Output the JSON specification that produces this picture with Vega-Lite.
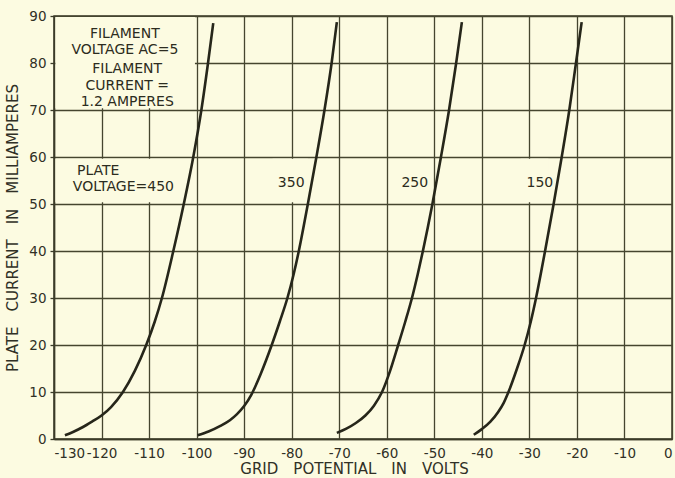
{
  "$schema": "https://vega.github.io/schema/vega-lite/v6.json",
  "width": 618,
  "height": 423,
  "autosize": {"type": "none"},
  "padding": {"left": 54, "top": 16, "right": 3, "bottom": 39},
  "background": "#fcfbe1",
  "config": {
    "font": "DejaVu Sans",
    "view": {"stroke": "#3b3b28", "strokeWidth": 1.5, "fill": "#fcfbe1"},
    "axis": {
      "grid": true,
      "gridColor": "#45452f",
      "gridWidth": 1.3,
      "gridOpacity": 1,
      "domainColor": "#3b3b28",
      "domainWidth": 1.5,
      "tickColor": "#3b3b28",
      "tickWidth": 1.3,
      "labelFont": "DejaVu Sans",
      "labelFontSize": 13.5,
      "labelColor": "#303026",
      "titleFont": "DejaVu Sans",
      "titleFontSize": 15,
      "titleFontWeight": "normal",
      "titleColor": "#303026"
    }
  },
  "datasets": {
    "curves": [
      {"pv": "450", "v": -127.7, "ma": 0.8},
      {"pv": "450", "v": -126, "ma": 1.5},
      {"pv": "450", "v": -124, "ma": 2.5},
      {"pv": "450", "v": -122, "ma": 3.7},
      {"pv": "450", "v": -120, "ma": 5.0},
      {"pv": "450", "v": -118, "ma": 6.8},
      {"pv": "450", "v": -115.5, "ma": 10},
      {"pv": "450", "v": -113, "ma": 14.5},
      {"pv": "450", "v": -110.6, "ma": 20},
      {"pv": "450", "v": -108.8, "ma": 25},
      {"pv": "450", "v": -107.3, "ma": 30},
      {"pv": "450", "v": -104.9, "ma": 40},
      {"pv": "450", "v": -102.7, "ma": 50},
      {"pv": "450", "v": -100.7, "ma": 60},
      {"pv": "450", "v": -99.0, "ma": 70},
      {"pv": "450", "v": -97.6, "ma": 80},
      {"pv": "450", "v": -96.5, "ma": 88.5},
      {"pv": "350", "v": -99.8, "ma": 0.8},
      {"pv": "350", "v": -97.5, "ma": 1.6},
      {"pv": "350", "v": -95, "ma": 2.8},
      {"pv": "350", "v": -93, "ma": 4.0},
      {"pv": "350", "v": -91.5, "ma": 5.3},
      {"pv": "350", "v": -90, "ma": 7.0},
      {"pv": "350", "v": -88.5, "ma": 9.4},
      {"pv": "350", "v": -86.5, "ma": 13.9},
      {"pv": "350", "v": -84.2, "ma": 20},
      {"pv": "350", "v": -82.5, "ma": 25},
      {"pv": "350", "v": -80.9, "ma": 30},
      {"pv": "350", "v": -79.6, "ma": 35},
      {"pv": "350", "v": -78.5, "ma": 40},
      {"pv": "350", "v": -76.6, "ma": 50},
      {"pv": "350", "v": -74.8, "ma": 60},
      {"pv": "350", "v": -73.1, "ma": 70},
      {"pv": "350", "v": -71.6, "ma": 80},
      {"pv": "350", "v": -70.5, "ma": 88.7},
      {"pv": "250", "v": -70.5, "ma": 1.3},
      {"pv": "250", "v": -68.5, "ma": 2.2},
      {"pv": "250", "v": -66.5, "ma": 3.4},
      {"pv": "250", "v": -64.5, "ma": 5.0},
      {"pv": "250", "v": -62.7, "ma": 7.1},
      {"pv": "250", "v": -61.0, "ma": 10},
      {"pv": "250", "v": -59.3, "ma": 14.5},
      {"pv": "250", "v": -57.6, "ma": 20},
      {"pv": "250", "v": -56.1, "ma": 25},
      {"pv": "250", "v": -54.7, "ma": 30},
      {"pv": "250", "v": -53.5, "ma": 35},
      {"pv": "250", "v": -52.4, "ma": 40},
      {"pv": "250", "v": -50.4, "ma": 50},
      {"pv": "250", "v": -48.6, "ma": 60},
      {"pv": "250", "v": -46.9, "ma": 70},
      {"pv": "250", "v": -45.4, "ma": 80},
      {"pv": "250", "v": -44.2, "ma": 88.7},
      {"pv": "150", "v": -41.7, "ma": 0.9},
      {"pv": "150", "v": -40, "ma": 2.1},
      {"pv": "150", "v": -38.2, "ma": 3.7},
      {"pv": "150", "v": -36.6, "ma": 5.7},
      {"pv": "150", "v": -35.4, "ma": 7.7},
      {"pv": "150", "v": -34.4, "ma": 10},
      {"pv": "150", "v": -32.6, "ma": 15},
      {"pv": "150", "v": -31.0, "ma": 20},
      {"pv": "150", "v": -29.7, "ma": 25},
      {"pv": "150", "v": -28.6, "ma": 30},
      {"pv": "150", "v": -26.7, "ma": 40},
      {"pv": "150", "v": -24.9, "ma": 50},
      {"pv": "150", "v": -23.2, "ma": 60},
      {"pv": "150", "v": -21.6, "ma": 70},
      {"pv": "150", "v": -20.2, "ma": 80},
      {"pv": "150", "v": -19.0, "ma": 88.7}
    ],
    "notes": [
      {"text": ["FILAMENT", "VOLTAGE AC=5"], "v": -115.1, "ma": 86.2},
      {"text": ["FILAMENT", "CURRENT =", "1.2 AMPERES"], "v": -114.6, "ma": 78.7},
      {"text": "PLATE", "v": -120.7, "ma": 57.0},
      {"text": "VOLTAGE=450", "v": -115.4, "ma": 53.6},
      {"text": "350", "v": -80.1, "ma": 54.5},
      {"text": "250", "v": -54.1, "ma": 54.5},
      {"text": "150", "v": -27.8, "ma": 54.5}
    ],
    "boxes": [
      {"v1": -129.7, "v2": -100.35, "ma1": 70.35, "ma2": 89.8},
      {"v1": -129.7, "v2": -100.35, "ma1": 50.35, "ma2": 59.65},
      {"v1": -84.0, "v2": -76.6, "ma1": 50.35, "ma2": 59.65},
      {"v1": -31.8, "v2": -26.0, "ma1": 50.35, "ma2": 59.65}
    ]
  },
  "layer": [
    {
      "data": {"name": "boxes"},
      "mark": {"type": "rect", "fill": "#fcfbe1", "strokeWidth": 0},
      "encoding": {
        "x": {
          "field": "v1", "type": "quantitative",
          "scale": {"domain": [-130, 0], "nice": false, "zero": false},
          "axis": {
            "values": [-130, -120, -110, -100, -90, -80, -70, -60, -50, -40, -30, -20, -10, 0],
            "labelExpr": "'' + datum.value",
            "tickSize": 0,
            "labelPadding": 7,
            "title": "GRID\u2003POTENTIAL\u2003IN\u2003VOLTS",
            "titlePadding": 2,
            "titleX": 300
          }
        },
        "x2": {"field": "v2"},
        "y": {
          "field": "ma1", "type": "quantitative",
          "scale": {"domain": [0, 90], "nice": false},
          "axis": {
            "values": [0, 10, 20, 30, 40, 50, 60, 70, 80, 90],
            "tickSize": 4,
            "labelPadding": 4,
            "title": "PLATE\u2003CURRENT\u2003IN\u2003MILLIAMPERES",
            "titlePadding": 8
          }
        },
        "y2": {"field": "ma2"}
      }
    },
    {
      "data": {"name": "curves"},
      "mark": {"type": "line", "color": "#26261a", "strokeWidth": 2.6, "interpolate": "monotone"},
      "encoding": {
        "x": {"field": "v", "type": "quantitative"},
        "y": {"field": "ma", "type": "quantitative"},
        "detail": {"field": "pv"}
      }
    },
    {
      "data": {"name": "notes"},
      "mark": {"type": "text", "font": "DejaVu Sans", "fontSize": 14, "lineHeight": 16.5, "color": "#2c2c20", "align": "center", "baseline": "middle"},
      "encoding": {
        "x": {"field": "v", "type": "quantitative"},
        "y": {"field": "ma", "type": "quantitative"},
        "text": {"field": "text"}
      }
    }
  ]
}
